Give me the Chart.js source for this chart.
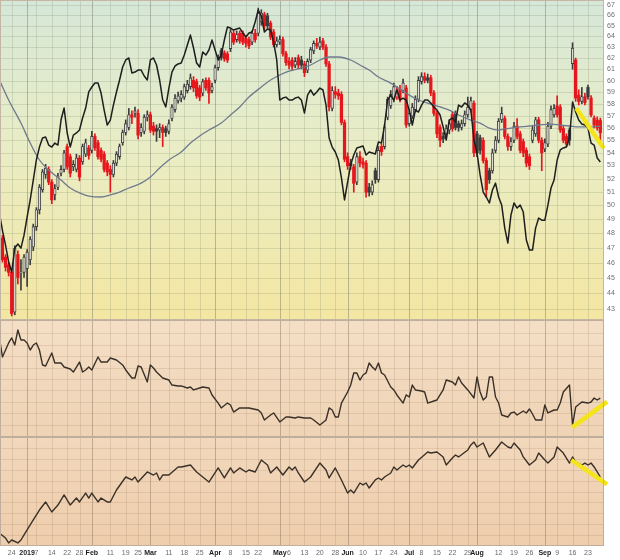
<!DOCTYPE html>
<html><head><meta charset="utf-8">
<script src="https://cdn.jsdelivr.net/npm/chart.js@4.4.1/dist/chart.umd.min.js"></script>
<style>
html,body{margin:0;padding:0;background:#fff;}
#wrap{position:relative;width:620px;height:560px;overflow:hidden;}
canvas{position:absolute;left:0;}
</style></head><body>
<div id="wrap">
<canvas id="cMain" width="620" height="320" style="top:0;width:620px;height:320px"></canvas>
<canvas id="cP2" width="620" height="117" style="top:320px;width:620px;height:117px"></canvas>
<canvas id="cP3" width="620" height="123" style="top:437px;width:620px;height:123px"></canvas>
</div>
<script>
// ---- x axis: trading-day index (0 = 18 Dec 2018) ----
const tickDays = [4,9,12,17,22,26,30,36,41,45,49,55,60,65,70,75,80,84,91,94,99,104,109,113,118,123,128,133,137,142,147,152,155,162,167,172,177,181,186,191];
const tickLabels = ['24','2019','7','14','22','28','Feb','11','19','25','Mar','11','18','25','Apr','8','15','22','May','6','13','20','28','Jun','10','17','24','Jul','8','15','22','29','Aug','12','19','26','Sep','9','16','23'];
const priceTicks = [43,44,45,46,47,48,49,50,51,52,53,54,55,56,57,58,59,60,61,62,63,64,65,66,67];

// ---- daily OHLC ----
const open = [49.69,47.68,46.37,45.85,45.35,42.8,46.54,45.3,45.35,45.6,
46.19,47.06,48.48,49.69,51.16,52.31,52.7,51.73,50.78,51.35,
52.41,52.7,54.49,53.69,52.9,52.7,53.59,53.29,53.89,54.39,
54.19,55.3,54.79,54.19,53.89,53.19,52.7,52.31,53.19,53.69,
54.79,55.62,56.03,57.08,57.19,57.19,55.62,55.72,56.87,57.08,
56.14,55.93,55.82,56.03,55.93,55.72,56.77,57.51,58.26,58.47,
58.57,59.12,59.47,60.02,59.91,59.36,58.92,60.02,60.02,59.14,
60.02,61.14,62.68,62.47,62.38,62.87,64.29,63.7,64.29,64.29,
63.81,63.7,63.46,64.29,64.29,65.38,66.07,65.95,65.25,64.41,
63.24,63.46,63.7,62.4,61.71,61.82,61.37,62.05,61.82,61.48,
60.91,61.82,62.66,63.35,63.0,63.58,63.0,61.48,57.61,59.03,
58.92,58.8,56.44,53.69,53.19,52.9,51.73,53.69,53.29,53.19,
51.35,50.98,52.6,51.92,54.49,54.49,56.87,57.83,58.37,58.57,
59.25,59.14,59.36,56.34,56.98,57.51,58.37,59.91,60.35,60.24,
60.24,58.92,57.19,56.03,55.3,55.51,55.82,57.08,57.19,56.34,
56.03,56.34,57.08,57.51,58.04,55.51,55.2,54.99,53.39,52.6,
52.6,54.19,54.99,56.66,56.77,55.3,54.49,54.99,56.14,55.51,
54.89,54.19,53.69,54.99,55.51,56.66,54.99,54.29,54.69,56.14,
57.08,57.83,57.72,55.93,55.3,55.82,61.5,61.83,58.74,58.2,
58.6,59.4,58.5,56.8,56.64,56.6];
const close = [47.68,46.19,45.68,45.35,42.7,46.96,45.01,45.35,46.37,46.71,
47.59,48.48,49.69,51.36,52.51,52.8,51.73,50.41,51.25,52.21,
52.7,53.99,52.9,52.41,53.09,53.59,52.12,54.49,54.79,53.79,
55.3,54.39,53.69,53.49,52.7,52.51,52.31,53.19,53.89,54.49,
55.62,56.34,57.08,56.87,57.4,55.41,56.03,56.87,57.08,55.82,
55.72,55.72,56.03,55.62,55.62,56.34,57.72,58.47,58.68,58.8,
59.47,59.68,60.24,59.36,58.68,58.57,59.91,59.36,58.92,59.47,
61.14,62.05,62.05,61.93,61.82,64.41,63.46,64.17,63.58,63.46,
63.35,63.12,64.29,63.7,66.2,66.2,65.0,65.0,63.93,63.24,
63.58,63.7,62.4,61.59,61.37,61.25,61.71,61.37,61.37,60.69,
61.71,62.77,63.35,63.12,63.46,63.0,61.48,57.72,59.14,58.8,
58.68,56.44,53.49,52.99,52.99,51.64,53.69,53.19,53.09,50.98,
50.98,51.54,51.92,54.19,54.09,56.03,58.37,58.8,59.47,59.14,
58.37,59.8,56.24,57.19,57.72,58.37,60.02,60.35,60.02,60.02,
58.92,57.19,55.51,54.99,55.1,55.93,56.34,55.93,56.03,56.03,
56.34,57.08,57.72,58.26,53.99,53.99,54.19,53.39,51.16,51.92,
53.99,54.99,56.55,57.19,55.3,54.49,54.89,56.14,55.3,54.19,
53.99,53.19,52.99,55.82,56.66,54.99,53.99,54.79,56.14,57.51,
57.61,57.08,55.82,54.99,54.69,55.0,62.9,58.49,58.2,58.6,
58.1,58.6,57.06,56.23,56.0,55.6];
const high = [49.84,47.86,46.54,46.03,45.52,47.15,46.8,46.2,46.54,46.88,
47.77,48.66,49.84,51.55,52.7,53.09,52.9,51.92,51.54,52.41,
52.99,54.19,54.69,53.89,53.39,53.89,53.79,54.69,55.09,54.59,
55.72,55.51,54.99,54.39,54.09,53.39,52.99,53.39,54.09,54.69,
55.82,56.65,57.61,57.4,57.72,57.51,56.34,57.08,57.4,57.3,
56.45,56.24,56.34,56.24,56.14,56.65,57.93,58.78,59.01,59.12,
59.69,60.02,60.58,60.35,60.13,59.58,60.13,60.24,60.24,59.79,
61.37,62.29,62.89,62.68,62.59,64.65,64.51,64.51,64.51,64.51,
64.05,63.93,64.51,64.65,66.7,66.54,66.3,66.2,65.45,64.65,
63.93,64.05,63.93,62.61,62.05,62.05,62.05,62.29,62.17,61.71,
61.93,62.98,63.58,63.81,63.93,63.81,63.24,61.71,59.47,59.47,
59.25,59.03,56.65,53.99,53.49,53.09,53.99,54.09,53.59,53.39,
51.64,51.83,52.8,54.49,54.69,56.24,58.57,59.14,59.79,59.47,
59.58,60.13,59.58,57.51,58.03,58.68,60.35,60.69,60.69,60.58,
60.47,59.14,57.4,56.24,55.62,56.24,56.65,57.3,57.4,56.56,
56.65,57.4,58.57,58.57,58.26,55.72,55.41,55.2,53.59,52.8,
54.29,55.3,56.77,57.72,56.98,55.51,55.2,56.45,56.77,55.72,
55.1,54.39,53.89,56.14,56.87,56.87,55.2,55.1,56.45,57.83,
57.93,58.68,57.93,56.14,55.51,56.0,63.4,62.0,59.2,59.4,
58.9,59.6,58.7,57.0,56.9,56.8];
const low = [47.5,46.03,45.43,45.1,42.55,42.62,44.59,44.18,45.01,44.43,
45.85,46.8,48.21,49.38,50.98,52.02,51.54,50.13,50.41,51.16,
52.21,52.51,52.7,52.12,52.6,52.51,51.83,53.09,53.69,53.49,
53.99,54.19,53.49,53.29,52.51,52.21,50.98,52.12,52.99,53.49,
54.59,55.41,55.82,56.34,56.87,55.1,55.3,55.51,56.56,55.62,
55.41,54.9,55.2,54.49,55.3,55.51,56.56,57.3,58.05,58.16,
58.37,58.92,59.25,59.03,58.47,58.26,58.68,59.14,58.03,58.92,
59.8,60.91,61.82,61.71,61.6,62.59,63.24,63.46,63.35,63.24,
63.01,62.87,63.24,63.46,64.05,65.05,64.65,64.77,63.7,63.01,
63.01,63.24,62.17,61.35,61.03,60.91,61.14,61.03,61.03,60.35,
60.69,61.59,62.4,62.87,62.77,62.77,61.25,57.4,57.4,58.47,
58.37,56.24,53.29,52.7,52.7,50.98,51.54,52.9,52.8,50.6,
50.69,50.78,51.64,51.73,53.79,54.29,56.66,57.61,58.16,58.37,
58.16,58.92,56.03,56.14,56.77,57.3,58.16,59.69,59.8,59.8,
58.68,56.98,55.2,54.49,54.79,55.2,55.51,55.72,55.82,55.72,
55.82,56.14,56.87,57.3,53.69,53.69,53.89,53.19,50.6,51.64,
52.41,53.99,54.79,56.44,55.1,54.19,54.19,54.79,55.1,53.99,
53.69,52.9,52.7,54.79,55.3,54.79,52.6,54.09,54.49,55.93,
56.87,56.87,55.62,54.79,54.49,54.6,61.0,58.2,57.9,58.0,
57.9,58.4,56.9,56.0,55.8,54.9];

// ---- comparison line (black) ----
const compare = [49.45,48.2,47.19,46.04,45.37,46.98,47.26,46.98,47.88,49.16,
50.40,51.89,53.43,54.45,55.17,55.25,54.61,54.45,54.77,54.61,
56.64,57.64,55.58,54.45,55.41,55.58,55.82,56.81,57.64,59.01,
59.44,59.78,59.78,58.92,57.47,56.23,56.64,57.89,59.01,60.05,
61.20,61.83,62.01,60.67,60.75,60.93,60.93,60.40,60.05,61.83,
62.01,61.38,60.05,58.32,57.73,59.35,60.75,61.29,61.47,61.56,
62.28,63.20,64.12,62.92,61.56,61.20,62.56,62.28,62.74,63.66,
62.74,61.83,62.28,63.66,64.88,64.78,64.59,64.69,64.78,64.31,
63.94,64.31,64.41,65.36,66.51,65.94,64.41,64.69,64.59,63.47,
61.83,58.32,58.49,58.57,58.32,58.32,58.49,58.57,58.32,57.22,
58.74,59.18,58.74,59.01,59.35,59.18,57.89,55.17,54.45,54.06,
53.43,52.05,50.40,51.74,53.05,53.82,54.38,54.45,54.53,53.82,
54.06,53.98,53.90,54.85,54.77,56.23,58.32,58.74,58.32,59.18,
58.32,58.49,58.32,57.47,56.23,57.47,57.31,57.89,58.32,58.32,
58.07,57.73,57.47,57.06,56.07,55.01,56.64,56.81,56.48,57.89,
57.73,58.07,57.89,57.47,55.01,53.98,52.28,50.99,50.62,50.18,
51.14,51.66,50.62,50.03,48.37,47.33,49.30,50.18,49.81,50.03,
49.52,47.54,46.85,46.85,48.37,49.09,48.94,48.94,50.03,51.29,
51.89,53.43,54.22,54.38,54.45,55.17,58.15,57.31,56.64,56.31,
56.23,55.98,54.77,54.61,53.59,53.28];

// ---- moving average [day, value] ----
const maLine = [[0,60.05],[3,58.32],[7,56.39],[10,54.77],[13,53.43],[16,52.65],[20,51.89],[23,51.29],[26,50.92],[29,50.69],[33,50.62],[36,50.77],[39,50.99],[42,51.29],[46,51.66],[49,52.12],[52,52.81],[55,53.43],[59,54.06],[62,54.77],[65,55.34],[68,55.82],[72,56.39],[75,57.06],[78,57.73],[81,58.57],[85,59.44],[88,60.05],[91,60.49],[94,60.84],[98,61.11],[101,61.38],[104,61.83],[107,62.10],[110,62.10],[114,61.83],[117,61.38],[120,60.93],[123,60.31],[127,59.78],[130,59.26],[133,58.74],[136,58.32],[140,57.98],[143,57.73],[146,57.47],[149,57.06],[153,56.64],[156,56.39],[159,55.98],[162,55.82],[166,55.98],[169,56.07],[172,56.15],[175,56.23],[179,56.31],[182,56.23],[185,56.15],[188,56.07],[192,56.07],[195,56.15]];

// ---- lower panels [day, value] (unitless, 0-100 of panel) ----
const panel2 = [[0,86],[1,69.3],[2,75.4],[3,81.6],[4,86],[5,79.8],[6,93],[7,84.2],[8,84.2],[9,81.6],[10,75.4],[11,79.8],[12,81.6],[13,75.4],[14,62.3],[15,61.4],[17,72.8],[18,64],[20,64],[21,60.5],[23,58.8],[24,56.1],[26,64.9],[27,56.1],[28,57.9],[29,60.5],[30,57.9],[32,69.3],[33,64.9],[35,64.9],[36,68.4],[38,66.7],[40,62.3],[41,57.9],[43,50.9],[44,50.9],[45,61.4],[46,60.5],[48,47.4],[49,62.3],[50,59.6],[51,56.1],[53,50.9],[55,49.1],[56,44.7],[58,43.9],[59,43.9],[61,42.1],[62,43],[63,40.4],[65,42.1],[66,43],[68,42.1],[69,36],[71,28.9],[72,24.6],[74,28.9],[75,27.2],[76,21],[78,24.6],[80,24.6],[81,24.6],[84,22.8],[85,20.2],[86,14],[88,18.4],[89,20.2],[91,12.3],[93,16.7],[94,16.7],[96,15.8],[97,16.7],[99,15.8],[101,15.8],[102,14],[104,9.6],[106,14],[107,24.6],[108,22.8],[109,16.7],[110,16.7],[111,28.9],[113,38.6],[114,44.7],[115,55.3],[116,55.3],[117,49.1],[118,53.5],[119,55.3],[120,64],[121,60.5],[122,57.9],[123,64],[124,55.3],[125,53.5],[127,43],[128,40.4],[129,36],[131,28.9],[132,36],[133,34.2],[134,44.7],[135,40.4],[137,39.5],[138,38.6],[139,28.9],[141,30.7],[142,31.6],[144,40.4],[145,49.1],[147,47.4],[148,44.7],[149,51.8],[150,46.5],[152,40.4],[154,33.3],[155,51.8],[156,38.6],[157,31.6],[158,34.2],[159,51.8],[160,51.8],[161,34.2],[162,28.9],[163,18.4],[165,16.7],[166,20.2],[167,21],[168,18.4],[170,21.9],[171,20.2],[172,23.7],[173,19.3],[174,14],[176,14],[177,27.2],[178,20.2],[180,22.8],[181,22.8],[182,28.9],[183,38.6],[185,44.7],[186,9.6],[187,25.4],[189,29.8],[191,28.9],[192,29.8],[193,33.3],[194,31.6],[195,33.3]];
const panel3 = [[0,11.9],[2,7.3],[3,2.8],[4,5.5],[6,2.8],[7,5.5],[8,10.1],[11,23.9],[13,33],[15,40.4],[17,31.2],[19,37.6],[21,46.8],[23,37.6],[25,44],[26,40.4],[28,48.6],[29,44],[30,48.6],[32,40.4],[33,44],[35,40.4],[36,40.4],[38,51.4],[41,63.3],[43,60.6],[44,63.3],[45,58.7],[48,67.9],[50,65.1],[51,67],[52,60.6],[53,65.1],[55,65.1],[58,72.5],[59,72.5],[62,74.3],[64,67.9],[66,63.3],[68,58.7],[71,71.6],[73,62.4],[75,71.6],[76,67],[78,71.6],[80,67.9],[81,69.7],[83,67.9],[85,78.9],[87,74.3],[88,67],[90,72.5],[92,65.1],[94,72.5],[95,69.7],[96,72.5],[97,67],[99,58.7],[101,63.3],[104,76.1],[106,69.7],[107,62.4],[109,71.6],[111,60.6],[113,48.6],[114,51.4],[115,48.6],[117,57.8],[118,56],[119,57.8],[120,53.2],[122,60.6],[123,62.4],[124,60.6],[125,63.3],[127,67],[128,72.5],[129,69.7],[131,74.3],[132,72.5],[133,74.3],[134,71.6],[136,78.9],[139,86.2],[140,85.3],[142,86.2],[144,81.7],[145,74.3],[147,80.7],[148,83.5],[149,81.7],[152,88.1],[153,92.7],[154,95.4],[155,90.8],[157,94.5],[158,88.1],[159,81.7],[161,88.1],[163,95.4],[165,90.8],[166,89.9],[167,94.5],[169,88.1],[170,81.7],[172,74.3],[174,78.9],[175,85.3],[177,78.9],[178,76.1],[180,81.7],[181,90.8],[183,85.3],[184,80.7],[185,76.1],[186,81.7],[187,77.1],[189,74.3],[190,76.1],[191,74.3],[192,76.1],[193,72.5],[194,67.9],[195,63.3]];

// ---- yellow trend lines [day, value] ----
const trendMain = [[187.2,57.62],[196.1,54.35]];
const trendP2 = [[185.9,7.6],[197.2,30.1]];
const trendP3 = [[185.6,78.9],[197.2,56.6]];

// ---------------- rendering ----------------
const X_MIN = 0.2, X_MAX = 196.2;
const FONT = '"Liberation Sans", Arial, sans-serif';
const RED = '#e5161c', DARK = '#3c3c3c';
const isMonth = k => /^[A-Za-z]/.test(tickLabels[k]) || tickLabels[k].length === 4;
const pts = arr => arr.map(([x, y]) => ({x, y}));

function candleColor(i) {
  const prev = i > 0 ? close[i - 1] : open[i];
  return close[i] < prev ? RED : DARK;
}

const panelBg = {
  id: 'panelBg',
  beforeDraw(chart, args, o) {
    const {ctx, chartArea: a, scales} = chart;
    ctx.save();
    const g = ctx.createLinearGradient(0, a.top, 0, a.bottom);
    o.stops.forEach(([p, c]) => g.addColorStop(p, c));
    ctx.fillStyle = g;
    ctx.fillRect(a.left, a.top, a.right - a.left, a.bottom - a.top);
    ctx.lineWidth = 1;
    ctx.strokeStyle = o.hColor;
    o.hValues.forEach(v => {
      const y = Math.round(scales.y.getPixelForValue(v)) + 0.5;
      ctx.beginPath(); ctx.moveTo(a.left, y); ctx.lineTo(a.right, y); ctx.stroke();
    });
    tickDays.forEach((d, k) => {
      const x = Math.round(scales.x.getPixelForValue(d)) + 0.5;
      ctx.strokeStyle = isMonth(k) ? o.mColor : o.vColor;
      ctx.beginPath(); ctx.moveTo(x, a.top); ctx.lineTo(x, a.bottom); ctx.stroke();
    });
    ctx.restore();
  },
  afterDraw(chart, args, o) {
    const {ctx, chartArea: a} = chart;
    ctx.save();
    ctx.strokeStyle = o.border;
    ctx.lineWidth = 1;
    ctx.strokeRect(a.left + 0.5, a.top + 0.5, a.right - a.left - 1, a.bottom - a.top - 1);
    ctx.restore();
  }
};

function baseOptions(bg, yScale, xScale) {
  return {
    responsive: false, animation: false, events: [],
    layout: {padding: 0},
    plugins: {legend: {display: false}, tooltip: {enabled: false}, panelBg: bg},
    scales: {x: xScale, y: yScale}
  };
}
const fitRight = s => { s.width = 16; s.paddingTop = 0; s.paddingBottom = 0; };
const hiddenX = {type: 'linear', min: X_MIN, max: X_MAX, offset: false, display: false};
const lowerY = {
  type: 'linear', position: 'right', min: -0.88, max: 101.75,
  grid: {display: false, drawTicks: false}, border: {display: false},
  ticks: {display: false},
  afterFit: fitRight
};
const lowerBg = (stops) => ({stops, hValues: [10,20,30,40,50,60,70,80,90],
  hColor: 'rgba(160,125,90,0.2)', vColor: 'rgba(150,120,90,0.2)', mColor: 'rgba(120,100,80,0.4)', border: '#bfae9c'});

// main price panel
new Chart(document.getElementById('cMain'), {
  type: 'bar',
  data: {datasets: [
    {type: 'line', data: pts(trendMain), borderColor: '#f4e41a', borderWidth: 4.5, pointRadius: 0, clip: false, order: 0},
    {type: 'line', data: compare.map((y, x) => ({x, y})), borderColor: '#1e1e1e', borderWidth: 1.5, pointRadius: 0, borderJoinStyle: 'round', order: 1},
    {type: 'line', data: pts(maLine), borderColor: '#6f7a8e', borderWidth: 1.3, pointRadius: 0, cubicInterpolationMode: 'monotone', order: 2},
    {type: 'bar', data: open.map((o, i) => ({x: i, y: [o, close[i]]})), barThickness: 2.6, minBarLength: 1, grouped: false, borderSkipped: false, order: 3,
      backgroundColor: c => c.dataIndex === undefined ? RED : (close[c.dataIndex] < open[c.dataIndex] ? candleColor(c.dataIndex) : 'rgba(250,250,242,0.85)'),
      borderColor: c => c.dataIndex === undefined ? DARK : candleColor(c.dataIndex),
      borderWidth: c => c.dataIndex === undefined ? 0 : (close[c.dataIndex] < open[c.dataIndex] ? 0 : 0.9)},
    {type: 'bar', data: low.map((l, i) => ({x: i, y: [l, high[i]]})), barThickness: 1, grouped: false, order: 4,
      backgroundColor: c => c.dataIndex === undefined ? DARK : candleColor(c.dataIndex)}
  ]},
  options: baseOptions(
    {stops: [[0, '#d6e7d8'], [0.45, '#e9edc6'], [1, '#f4e6a2']], hValues: priceTicks,
     hColor: 'rgba(120,135,100,0.22)', vColor: 'rgba(120,130,100,0.22)', mColor: 'rgba(110,110,95,0.42)', border: '#c4b6a4'},
    {type: 'logarithmic', position: 'right', min: 42.30, max: 67.49,
     grid: {display: false, drawTicks: false}, border: {display: false},
     afterBuildTicks: s => { s.ticks = priceTicks.map(v => ({value: v})); },
     afterFit: fitRight,
     ticks: {autoSkip: false, padding: 3, color: '#6e6e6e', font: {size: 7, family: FONT}, callback: v => String(v)}},
    hiddenX),
  plugins: [panelBg]
});

// panel 2
new Chart(document.getElementById('cP2'), {
  type: 'line',
  data: {datasets: [
    {data: pts(trendP2), borderColor: '#f4e41a', borderWidth: 4.5, pointRadius: 0, clip: false, order: 0},
    {data: pts(panel2), borderColor: '#3a3028', borderWidth: 1.4, pointRadius: 0, borderJoinStyle: 'round', order: 1}
  ]},
  options: baseOptions(lowerBg([[0, '#f4dfc6'], [1, '#efd3b5']]), lowerY, hiddenX),
  plugins: [panelBg]
});

// panel 3 with date axis
new Chart(document.getElementById('cP3'), {
  type: 'line',
  data: {datasets: [
    {data: pts(trendP3), borderColor: '#f4e41a', borderWidth: 4.5, pointRadius: 0, clip: false, order: 0},
    {data: pts(panel3), borderColor: '#3a3028', borderWidth: 1.4, pointRadius: 0, borderJoinStyle: 'round', order: 1}
  ]},
  options: baseOptions(lowerBg([[0, '#f2d8bc'], [1, '#eecdac']]),
    Object.assign({}, lowerY, {min: 0, max: 100}),
    {type: 'linear', min: X_MIN, max: X_MAX, offset: false,
     grid: {display: false, drawTicks: false}, border: {display: false},
     afterBuildTicks: s => { s.ticks = tickDays.map(v => ({value: v})); },
     afterFit: s => { s.height = 14; s.paddingLeft = 0; s.paddingRight = 0; },
     ticks: {autoSkip: false, maxRotation: 0, minRotation: 0, padding: 3,
       callback: (v, i) => tickLabels[i],
       color: c => isMonth(c.index) ? '#1a1a1a' : '#6a6a6a',
       font: c => ({size: 7, family: FONT, weight: isMonth(c.index) ? 'bold' : 'normal'})}}),
  plugins: [panelBg]
});
</script>
</body></html>
